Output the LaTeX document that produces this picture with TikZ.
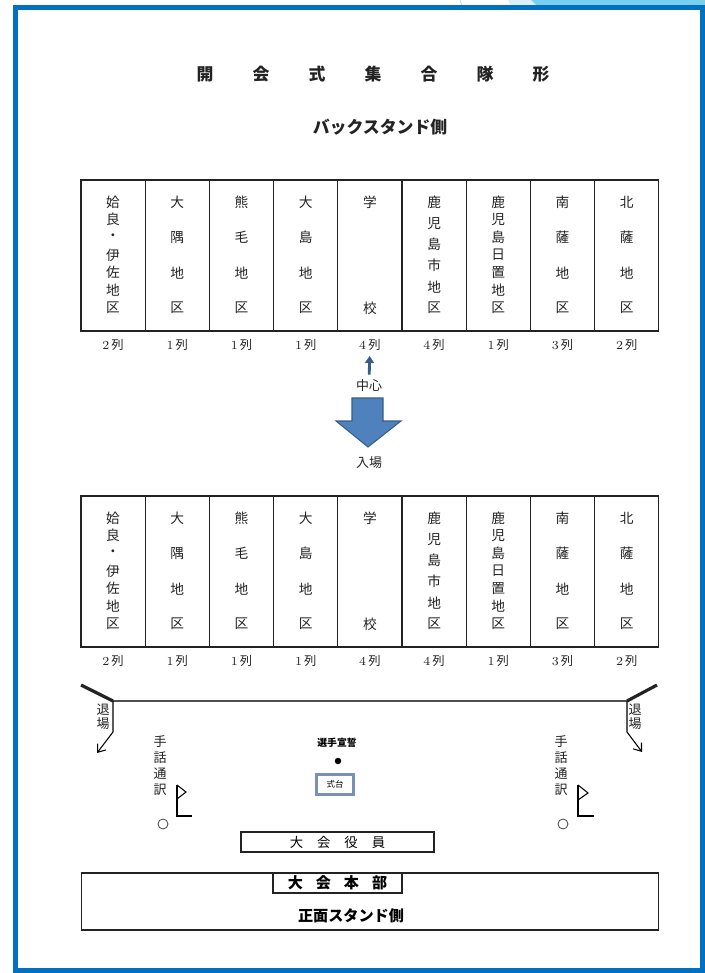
\documentclass[tikz,border=0pt]{standalone}
\usepackage{fontspec}
\newfontfamily\jp{Noto Sans CJK JP}
\usetikzlibrary{positioning,arrows.meta}
\definecolor{frameblue}{RGB}{0,112,192}
\definecolor{skyblue}{RGB}{120,208,238}
\definecolor{paleblue}{RGB}{220,240,250}
\definecolor{arrowfill}{RGB}{79,129,189}
\definecolor{arrowline}{RGB}{56,93,138}
\definecolor{tabline}{RGB}{35,35,35}
\definecolor{daiblue}{RGB}{120,145,180}
\begin{document}
\begin{tikzpicture}[x=0.02cm, y=-0.02cm,
  area/.style={draw=tabline, line width=0.6pt, minimum width=1.284cm, minimum height=3.02cm, inner sep=0pt},
  kanji/.style={font=\jp\fontsize{7.8}{8}\selectfont, inner sep=0pt, text=tabline},
  rows/.style={font=\fontsize{7}{8}\selectfont, inner sep=0pt, text=tabline},
  small/.style={font=\jp\fontsize{7.4}{8}\selectfont, inner sep=0pt, text=tabline},
  heading/.style={font=\jp\bfseries\fontsize{9.6}{10}\selectfont, inner sep=0pt, text=tabline},
  frame/.style={draw=tabline, line width=0.6pt, inner sep=0pt},
  exit/.style={line width=0.6pt, -{Straight Barb[length=4pt,width=6pt]}},
  flag/.style={line width=0.6pt}]
\useasboundingbox (0,0) rectangle (705,973);

% page frame
\fill[paleblue] (508,0) -- (531,0) -- (537,6) -- (511,6) -- cycle;
\fill[skyblue] (531,0) -- (705,0) -- (705,6) -- (537,6) -- cycle;
\draw[skyblue!70] (460,0) -- (462,6);
\draw[frameblue, line width=0.1cm] (15.5,8) rectangle (702.5,970.5);

% title
\foreach \ch [count=\k] in {開,会,式,集,合,隊,形}
  \node[heading] (t\k) at ({205+56*(\k-1)},74) {\ch};
\node[heading] (back) at (380,127) {バックスタンド側};

% upper and lower blocks
\foreach \tb/\dy in {u/0,l/316}{
  \foreach \chars/\n/\r [count=\i] in {{姶,良,・,伊,佐,地,区}/7/2, {大,隅,地,区}/4/1,
      {熊,毛,地,区}/4/1, {大,島,地,区}/4/1, {学,校}/2/4, {鹿,児,島,市,地,区}/6/4,
      {鹿,児,島,日,置,地,区}/7/1, {南,薩,地,区}/4/3, {北,薩,地,区}/4/2}{
    \pgfmathsetmacro\cx{81+64.2*(\i-0.5)}
    \node[area] (\tb\i) at (\cx,255.5+\dy) {};
    \foreach \ch [count=\k] in \chars
      \node[kanji] (\tb\i c\k) at (\cx,{202+\dy+(\k-1)*106/(\n-1)}) {\ch};
    \node[rows] (\tb\i r) at (\cx,345+\dy) {\r\,{\jp 列}};
  }
}

% centre and entrance
\node[small] (center) at (369,386) {中心};
\draw[arrowline, line width=1.6pt, -{Triangle[length=4pt,width=5pt]}, shorten <=1mm, shorten >=1mm] (center) -- (u5r);
\draw[arrowline, fill=arrowfill, line width=0.6pt]
  (352,398) -- (383,398) -- (383,421) -- (401,421) -- (368,447) -- (336,421) -- (352,421) -- cycle;
\node[small] (enter) at (369,463) {入場};

% exit line
\coordinate (exitL) at (113,701);
\coordinate (exitR) at (627,701);
\coordinate (cornerL) at (81,685);
\coordinate (cornerR) at (657,685);
\draw[tabline, line width=1.8pt] (cornerL) -- (exitL);
\draw[tabline, line width=1.8pt] (cornerR) -- (exitR);
\draw[tabline!80, line width=0.9pt] (exitL) -- (exitR);
\draw[exit] (exitL) -- (113,732) -- (97,753);
\draw[exit] (exitR) -- (627,732) -- (642,752);
\foreach \ch [count=\k] in {退,場}{
  \node[small] (exl\k) at (103,{710+14*(\k-1)}) {\ch};
  \node[small] (exr\k) at (635,{710+14*(\k-1)}) {\ch};
}

% sign language
\foreach \ch [count=\k] in {手,話,通,訳}{
  \node[small] (sgl\k) at (160,{742+16*(\k-1)}) {\ch};
  \node[small] (sgr\k) at (561,{742+16*(\k-1)}) {\ch};
}
\draw[flag] (177,785) -- (177,816) -- (192,816);
\draw[flag] (177,785) -- (186,792) -- (177,799);
\draw[flag] (578,785) -- (578,816) -- (594,816);
\draw[flag] (578,785) -- (588,793) -- (578,800);
\node[draw=tabline!80, circle, minimum size=0.2cm, inner sep=0pt, line width=0.5pt] (ringl) at (163,824) {};
\node[draw=tabline!80, circle, minimum size=0.2cm, inner sep=0pt, line width=0.5pt] (ringr) at (563,824) {};

% stage
\node[font=\jp\bfseries\fontsize{5.6}{6}\selectfont, inner sep=0pt] (oath) at (337,743) {選手宣誓};
\node[fill=black, circle, minimum size=0.13cm, inner sep=0pt] (dot) at (338,761) {};
\node[draw=daiblue, line width=1.2pt, fill=white, minimum width=0.74cm, minimum height=0.4cm, inner sep=0pt,
  font=\jp\fontsize{4.8}{5}\selectfont] (stage) at (335,784.5) {式台};

% officials and headquarters
\node[frame, minimum width=3.86cm, minimum height=0.4cm, font=\jp\fontsize{7.6}{8}\selectfont]
  (yakuin) at (337.5,842) {大\hspace{0.28cm}会\hspace{0.28cm}役\hspace{0.28cm}員};
\node[frame, minimum width=11.56cm, minimum height=1.14cm] (stand) at (370,901.5) {};
\node[frame, minimum width=2.58cm, minimum height=0.4cm, font=\jp\bfseries\fontsize{8.6}{9}\selectfont]
  (honbu) at (337.5,883) {大\hspace{0.26cm}会\hspace{0.26cm}本\hspace{0.26cm}部};
\node[font=\jp\bfseries\fontsize{8.6}{9}\selectfont, inner sep=0pt] (front) at (351,916) {正面スタンド側};
\end{tikzpicture}
\end{document}
